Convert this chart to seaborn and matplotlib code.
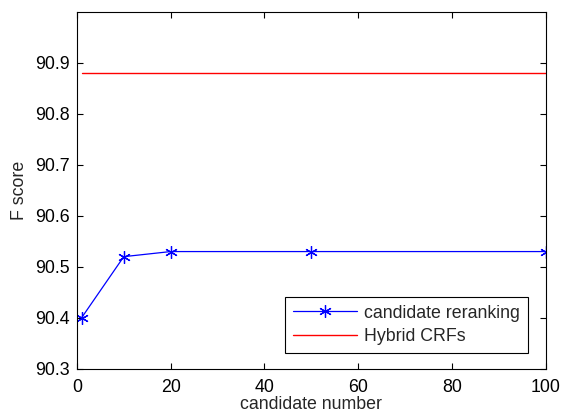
import matplotlib
matplotlib.use('Agg')
import matplotlib.pyplot as plt
import pandas as pd
import seaborn as sns

sns.set_style('ticks')
plt.rcParams['font.family'] = ['Liberation Sans', 'DejaVu Sans']

candidates = [1, 10, 20, 50, 100]
rerank_f = [90.40, 90.52, 90.53, 90.53, 90.53]
hybrid_x = [1, 100]
hybrid_f = [90.88, 90.88]

df = pd.DataFrame({'candidate number': candidates, 'F score': rerank_f})
hyb = pd.DataFrame({'candidate number': hybrid_x, 'F score': hybrid_f})

fs = 12.8
fig = plt.figure(figsize=(5.61, 4.13), dpi=100)
ax = fig.add_axes([0.137, 0.107, 0.836, 0.864])

sns.lineplot(x='candidate number', y='F score', data=df, ax=ax, color='blue',
             marker=(6, 2, 0), markersize=9, markeredgecolor='blue',
             markeredgewidth=0.9, linewidth=0.9, label='candidate reranking')
sns.lineplot(x='candidate number', y='F score', data=hyb, ax=ax, color='#ff0000',
             linewidth=1.0, label='Hybrid CRFs')

ax.set_xlim(0, 100)
ax.set_ylim(90.3, 91.0)
ax.set_xticks([0, 20, 40, 60, 80, 100])
ax.set_yticks([90.3, 90.4, 90.5, 90.6, 90.7, 90.8, 90.9])
ax.tick_params(direction='in', top=True, right=True, length=4, width=0.8,
               labelsize=fs, colors='black')
ax.tick_params(axis='x', pad=7)
ax.tick_params(axis='y', pad=5)
for s in ax.spines.values():
    s.set_linewidth(0.8)
    s.set_color('black')
ax.set_xlabel('candidate number', fontsize=fs, labelpad=0)
ax.set_ylabel('F score', fontsize=fs, labelpad=5)

leg = ax.legend(loc='lower right', bbox_to_anchor=(0.962, 0.045), fontsize=fs,
                fancybox=False, framealpha=1, edgecolor='black',
                handlelength=3.6, handletextpad=0.4, borderpad=0.45,
                labelspacing=0.35, borderaxespad=0)
leg.get_frame().set_linewidth(0.8)

fig.savefig('out.png', dpi=100)
